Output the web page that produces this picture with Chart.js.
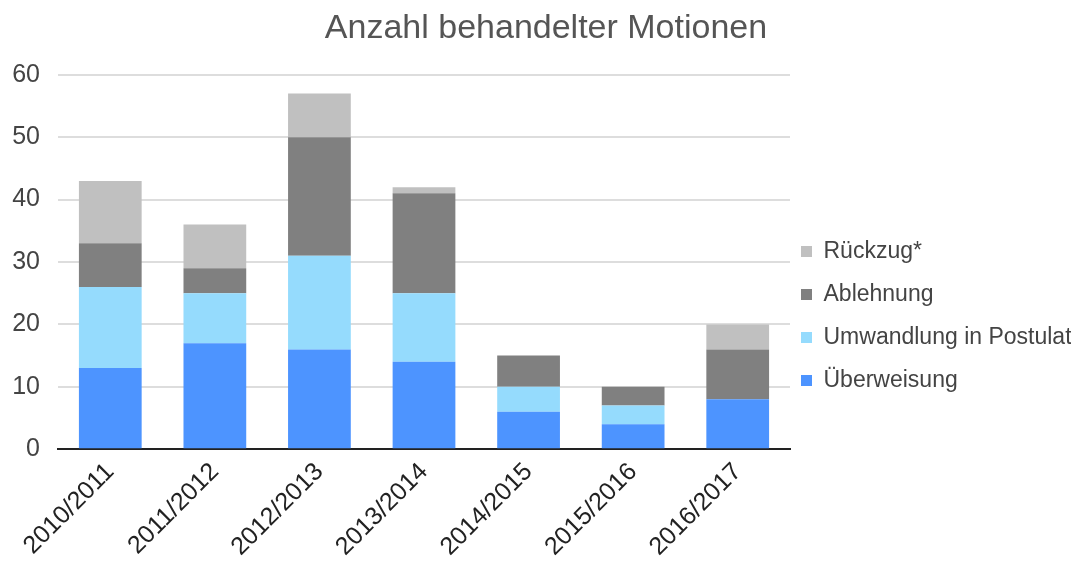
<!DOCTYPE html>
<html>
<head>
<meta charset="utf-8">
<script src="https://cdn.jsdelivr.net/npm/chart.js@4"></script>
<style>
  html, body { margin: 0; padding: 0; background: #fff; }
  #wrap { width: 1080px; height: 562px; }
</style>
</head>
<body>
<div id="wrap"><canvas id="chart" width="1080" height="562"></canvas></div>
<script>
// Jahre (Kategorien)
const years = ['2010/2011', '2011/2012', '2012/2013', '2013/2014', '2014/2015', '2015/2016', '2016/2017'];

// Werte pro Serie
const ueberweisung = [13, 17, 16, 14, 6, 4, 8];
const umwandlung   = [13, 8, 15, 11, 4, 3, 0];
const ablehnung    = [7, 4, 19, 16, 5, 3, 8];
const rueckzug     = [10, 7, 7, 1, 0, 0, 4];

const yTicks = [0, 10, 20, 30, 40, 50, 60];

const fontFamily = '"Liberation Sans", Arial, sans-serif';

// legend sits a bit lower and closer to the bars in the original
const legendShift = {
    id: 'legendShift',
    afterLayout(chart) {
        if (chart.legend) {
            chart.legend.top += 33;
            chart.legend.bottom += 33;
            chart.legend.left -= 9;
            chart.legend.right -= 9;
        }
    }
};

const ctx = document.getElementById('chart').getContext('2d');
new Chart(ctx, {
    type: 'bar',
    data: {
        labels: years,
        datasets: [
            { label: 'Überweisung', data: ueberweisung, backgroundColor: '#4d94ff' },
            { label: 'Umwandlung in Postulat', data: umwandlung, backgroundColor: '#95dbfd' },
            { label: 'Ablehnung', data: ablehnung, backgroundColor: '#808080' },
            { label: 'Rückzug*', data: rueckzug, backgroundColor: '#c0c0c0' }
        ]
    },
    options: {
        responsive: false,
        animation: false,
        layout: { padding: { left: 12, right: 0, top: 4, bottom: 0 } },
        datasets: {
            bar: { categoryPercentage: 0.6, barPercentage: 1.0, borderWidth: 0 }
        },
        plugins: {
            title: {
                display: true,
                text: 'Anzahl behandelter Motionen',
                color: '#555',
                font: { family: fontFamily, size: 34, weight: 'normal' },
                padding: { top: 4, bottom: 26 }
            },
            legend: {
                position: 'right',
                reverse: true,
                maxWidth: 290,
                labels: {
                    boxWidth: 11,
                    boxHeight: 11,
                    padding: 20,
                    color: '#444',
                    font: { family: fontFamily, size: 23 }
                }
            },
            tooltip: { enabled: false }
        },
        scales: {
            x: {
                stacked: true,
                grid: { display: false },
                border: { color: '#222', width: 2 },
                afterFit(scale) {
                    scale.paddingLeft = 0;
                },
                ticks: {
                    color: '#222',
                    minRotation: 45,
                    maxRotation: 45,
                    padding: 0,
                    font: { family: fontFamily, size: 25 }
                }
            },
            y: {
                stacked: true,
                min: 0,
                max: 60,
                afterBuildTicks(axis) {
                    axis.ticks = yTicks.map(v => ({ value: v }));
                },
                afterFit(scale) {
                    scale.width = 46;
                },
                grid: { color: '#dddddd', lineWidth: 2, drawTicks: false },
                border: { display: false },
                ticks: {
                    color: '#444',
                    padding: 18,
                    font: { family: fontFamily, size: 25 }
                }
            }
        }
    },
    plugins: [legendShift]
});
</script>
</body>
</html>
